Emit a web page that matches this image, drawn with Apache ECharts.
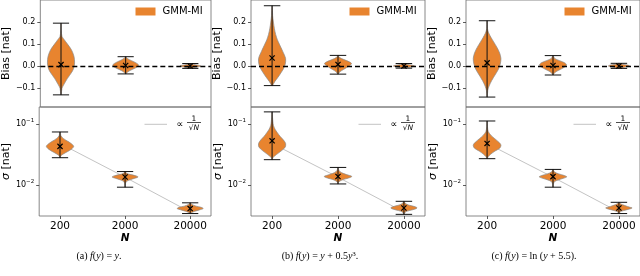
<!DOCTYPE html>
<html><head><meta charset="utf-8">
<script src="https://cdn.jsdelivr.net/npm/echarts@6/dist/echarts.min.js"></script>
<style>html,body{margin:0;padding:0;background:#fff}#c{width:640px;height:276px}</style>
</head><body><div id="c"></div>
<script>
// ---------- data ----------
const categories = ['200', '2000', '20000'];
const catPos = [1, 2, 3];
const biasTicks = [-0.1, 0, 0.1, 0.2];
const captions = [
  '(a) {i|f}({i|y}) = {i|y}.',
  '(b) {i|f}({i|y}) = {i|y} + 0.5{i|y}{sup|3}.',
  '(c) {i|f}({i|y}) = ln ({i|y} + 5.5).'
];

// violin profiles: [value, half-width in category units]
const biasShapeA = [
  [[0.195,0.003],[0.16,0.005],[0.135,0.015],[0.12,0.05],[0.1,0.1],[0.075,0.16],[0.045,0.2],[0.015,0.21],[-0.01,0.195],[-0.03,0.16],[-0.055,0.1],[-0.08,0.05],[-0.1,0.015],[-0.13,0.003]],
  [[0.043,0.003],[0.035,0.025],[0.025,0.09],[0.015,0.16],[0.005,0.2],[-0.005,0.17],[-0.015,0.1],[-0.025,0.035],[-0.035,0.003]],
  [[0.012,0.003],[0.008,0.05],[0.004,0.13],[0.001,0.16],[-0.003,0.12],[-0.007,0.05],[-0.01,0.003]]
];
const biasMinA = [-0.13, -0.035, -0.010];
const biasMaxA = [0.195, 0.043, 0.012];
const biasMeanA = [0.007, 0.003, 0.001];

const biasShapeB = [
  [[0.274,0.003],[0.23,0.008],[0.2,0.02],[0.17,0.035],[0.143,0.055],[0.12,0.08],[0.1,0.11],[0.068,0.16],[0.035,0.205],[0.01,0.2],[-0.01,0.175],[-0.03,0.135],[-0.05,0.09],[-0.07,0.04],[-0.088,0.005]],
  [[0.049,0.003],[0.04,0.02],[0.03,0.09],[0.02,0.17],[0.012,0.205],[0.002,0.175],[-0.01,0.11],[-0.02,0.055],[-0.03,0.015],[-0.036,0.003]],
  [[0.012,0.003],[0.008,0.05],[0.004,0.13],[0.001,0.16],[-0.003,0.12],[-0.006,0.05],[-0.009,0.003]]
];
const biasMinB = [-0.088, -0.036, -0.009];
const biasMaxB = [0.274, 0.049, 0.012];
const biasMeanB = [0.037, 0.008, 0.001];

const biasShapeC = [
  [[0.206,0.003],[0.17,0.006],[0.15,0.025],[0.13,0.06],[0.11,0.1],[0.085,0.15],[0.06,0.19],[0.035,0.21],[0.01,0.2],[-0.015,0.17],[-0.04,0.12],[-0.065,0.07],[-0.09,0.03],[-0.11,0.01],[-0.14,0.003]],
  [[0.048,0.003],[0.035,0.025],[0.025,0.1],[0.015,0.18],[0.006,0.205],[-0.004,0.175],[-0.015,0.11],[-0.025,0.045],[-0.035,0.01],[-0.04,0.003]],
  [[0.013,0.003],[0.009,0.05],[0.005,0.13],[0.001,0.16],[-0.003,0.12],[-0.007,0.05],[-0.01,0.003]]
];
const biasMinC = [-0.14, -0.04, -0.01];
const biasMaxC = [0.206, 0.048, 0.013];
const biasMeanC = [0.015, 0.003, 0.001];

const sigShapeA = [
  [[0.074,0.003],[0.065,0.012],[0.058,0.05],[0.052,0.12],[0.047,0.18],[0.043,0.21],[0.039,0.18],[0.035,0.11],[0.032,0.045],[0.03,0.012],[0.028,0.003]],
  [[0.0166,0.003],[0.0155,0.025],[0.0148,0.09],[0.0141,0.17],[0.0135,0.2],[0.0129,0.15],[0.0122,0.08],[0.0115,0.025],[0.0105,0.006],[0.0092,0.003]],
  [[0.0051,0.003],[0.0048,0.025],[0.0045,0.09],[0.0043,0.17],[0.0041,0.2],[0.0039,0.14],[0.0037,0.07],[0.0035,0.015],[0.0034,0.003]]
];
const sigMinA = [0.028, 0.0092, 0.0034];
const sigMaxA = [0.074, 0.0166, 0.0051];
const sigMeanA = [0.043, 0.0135, 0.0041];

const sigShapeB = [
  [[0.158,0.003],[0.13,0.006],[0.11,0.012],[0.095,0.02],[0.082,0.045],[0.072,0.08],[0.063,0.12],[0.055,0.17],[0.048,0.205],[0.042,0.2],[0.037,0.15],[0.033,0.09],[0.03,0.04],[0.028,0.012],[0.026,0.003]],
  [[0.0194,0.003],[0.0175,0.012],[0.016,0.05],[0.0148,0.13],[0.0138,0.21],[0.013,0.16],[0.0123,0.08],[0.0116,0.03],[0.011,0.008],[0.0104,0.003]],
  [[0.0054,0.003],[0.005,0.02],[0.0047,0.07],[0.0044,0.17],[0.0042,0.2],[0.004,0.16],[0.0038,0.08],[0.0036,0.02],[0.0033,0.003]]
];
const sigMinB = [0.026, 0.0104, 0.0033];
const sigMaxB = [0.158, 0.0194, 0.0054];
const sigMeanB = [0.053, 0.0138, 0.0042];

const sigShapeC = [
  [[0.112,0.003],[0.09,0.006],[0.075,0.018],[0.065,0.06],[0.057,0.12],[0.05,0.18],[0.045,0.21],[0.04,0.19],[0.036,0.12],[0.032,0.055],[0.029,0.015],[0.027,0.003]],
  [[0.018,0.003],[0.0165,0.018],[0.0153,0.08],[0.0143,0.17],[0.0136,0.21],[0.0129,0.16],[0.0121,0.08],[0.0113,0.02],[0.0102,0.006],[0.0092,0.003]],
  [[0.0052,0.003],[0.0049,0.025],[0.0046,0.09],[0.0043,0.17],[0.0042,0.2],[0.004,0.15],[0.0038,0.07],[0.0036,0.015],[0.0034,0.003]]
];
const sigMinC = [0.027, 0.0092, 0.0034];
const sigMaxC = [0.112, 0.018, 0.0052];
const sigMeanC = [0.048, 0.0137, 0.0042];

const refLine = [0.048, 0.0134, 0.0036];

// ---------- styling / layout ----------
const ORANGE = '#e8842f';
const FONT = 'DejaVu Sans';
const SERIF = 'Liberation Serif';
const lefts = [37, 251, 466];
const W = 174;
const X_MIN = 0.68, X_MAX = 3.32;
const CAP = 0.125;

const panels = [
  {bias: [biasShapeA, biasMinA, biasMaxA, biasMeanA], sig: [sigShapeA, sigMinA, sigMaxA, sigMeanA]},
  {bias: [biasShapeB, biasMinB, biasMaxB, biasMeanB], sig: [sigShapeB, sigMinB, sigMaxB, sigMeanB]},
  {bias: [biasShapeC, biasMinC, biasMaxC, biasMeanC], sig: [sigShapeC, sigMinC, sigMaxC, sigMeanC]}
];
const captionX = [99, 320, 534];

function violinRender(shapes) {
  return function (params, api) {
    const i = params.dataIndex;
    const x = api.value(0), mean = api.value(1), lo = api.value(2), hi = api.value(3);
    const prof = shapes[i];
    const left = prof.map(p => api.coord([x - p[1], p[0]]));
    const right = prof.slice().reverse().map(p => api.coord([x + p[1], p[0]]));
    const top = api.coord([x, hi]), bot = api.coord([x, lo]);
    const cl = api.coord([x - CAP, hi]), cr = api.coord([x + CAP, hi]);
    const bl = api.coord([x - CAP, lo]), br = api.coord([x + CAP, lo]);
    const m = api.coord([x, mean]);
    const s = 2.6;
    const ls = {stroke: '#111', lineWidth: 1};
    return {
      type: 'group',
      children: [
        {type: 'polygon', shape: {points: left.concat(right), smooth: 0.3}, style: {fill: ORANGE, stroke: '#8a8a8a', lineWidth: 0.7}},
        {type: 'line', shape: {x1: top[0], y1: top[1], x2: bot[0], y2: bot[1]}, style: ls},
        {type: 'line', shape: {x1: cl[0], y1: cl[1], x2: cr[0], y2: cr[1]}, style: ls},
        {type: 'line', shape: {x1: bl[0], y1: bl[1], x2: br[0], y2: br[1]}, style: ls},
        {type: 'line', shape: {x1: m[0] - s, y1: m[1] - s, x2: m[0] + s, y2: m[1] + s}, style: {stroke: '#000', lineWidth: 1.2}},
        {type: 'line', shape: {x1: m[0] - s, y1: m[1] + s, x2: m[0] + s, y2: m[1] - s}, style: {stroke: '#000', lineWidth: 1.2}}
      ]
    };
  };
}

function isPow10(v) {
  const l = Math.log10(v);
  return Math.abs(l - Math.round(l)) < 1e-6;
}

const grid = [], xAxis = [], yAxis = [], series = [], legend = [], graphic = [];
const tickStyle = {show: true, length: 3, lineStyle: {color: '#333', width: 0.8}};

panels.forEach((p, k) => {
  grid.push({left: lefts[k], top: -2, width: W, height: 109, show: true, borderColor: '#6a6a6a', borderWidth: 0.8});
  grid.push({left: lefts[k], top: 107, width: W, height: 109, show: true, borderColor: '#6a6a6a', borderWidth: 0.8});
  const gTop = 2 * k, gBot = 2 * k + 1;

  xAxis.push({type: 'value', gridIndex: gTop, min: X_MIN, max: X_MAX, axisLine: {show: false}, axisTick: {show: false}, axisLabel: {show: false}, splitLine: {show: false}});
  xAxis.push({type: 'value', gridIndex: gBot, min: X_MIN, max: X_MAX, axisLine: {show: false},
    axisTick: Object.assign({customValues: catPos}, tickStyle),
    axisLabel: {customValues: catPos, formatter: v => categories[catPos.indexOf(v)], fontFamily: FONT, fontSize: 10.5, color: '#000', margin: 5},
    splitLine: {show: false},
    name: 'N', nameLocation: 'middle', nameGap: 15,
    nameTextStyle: {fontFamily: FONT, fontSize: 10.5, fontStyle: 'italic', fontWeight: 'bold', color: '#000'}});

  yAxis.push({type: 'value', gridIndex: gTop, min: -0.185, max: 0.3, axisLine: {show: false},
    axisTick: Object.assign({customValues: biasTicks}, tickStyle),
    axisLabel: {customValues: biasTicks, formatter: v => (v < 0 ? '\u2212' : '') + Math.abs(v).toFixed(1), fontFamily: FONT, fontSize: 8, color: '#000', margin: 5},
    splitLine: {show: false},
    name: 'Bias [nat]', nameLocation: 'middle', nameGap: 19,
    nameTextStyle: {fontFamily: FONT, fontSize: 11, color: '#000'}});
  yAxis.push({type: 'log', gridIndex: gBot, min: 0.0031, max: 0.19, logBase: 10, axisLine: {show: false},
    axisTick: tickStyle,
    axisLabel: {showMinLabel: false, showMaxLabel: false,
      formatter: v => isPow10(v) ? '{b|10}{s|\u2212' + Math.round(-Math.log10(v)) + '}' : '',
      rich: {b: {fontFamily: FONT, fontSize: 8, color: '#000', lineHeight: 12}, s: {fontFamily: FONT, fontSize: 5.5, color: '#000', verticalAlign: 'top', lineHeight: 12}},
      margin: 5},
    splitLine: {show: false},
    name: '{i|\u03c3} [nat]', nameLocation: 'middle', nameGap: 19,
    nameTextStyle: {fontFamily: FONT, fontSize: 11, color: '#000', rich: {i: {fontFamily: FONT, fontSize: 11, fontStyle: 'italic', color: '#000'}}}});

  const b = p.bias, s = p.sig;
  series.push({
    type: 'custom', name: 'GMM-MI', xAxisIndex: gTop, yAxisIndex: gTop, z: 3,
    itemStyle: {color: ORANGE},
    renderItem: violinRender(b[0]),
    data: catPos.map((x, i) => [x, b[3][i], b[1][i], b[2][i]]),
    encode: {x: 0, y: [1, 2, 3]},
    markLine: {symbol: 'none', silent: true, label: {show: false}, z: 10,
      lineStyle: {color: '#000', type: [5, 3], width: 1.3}, data: [{yAxis: 0}]}
  });
  series.push({
    type: 'line', name: 'ref', xAxisIndex: gBot, yAxisIndex: gBot, z: 1, symbol: 'none', silent: true,
    lineStyle: {color: '#c4c4c4', width: 1}, data: catPos.map((x, i) => [x, refLine[i]])
  });
  series.push({
    type: 'custom', name: 'GMM-MI', xAxisIndex: gBot, yAxisIndex: gBot, z: 3,
    itemStyle: {color: ORANGE},
    renderItem: violinRender(s[0]),
    data: catPos.map((x, i) => [x, s[3][i], s[1][i], s[2][i]]),
    encode: {x: 0, y: [1, 2, 3]}
  });

  const R = lefts[k] + W;
  legend.push({left: R - 75.5, top: 6.5, padding: 0, itemWidth: 20, itemHeight: 8, selectedMode: false,
    data: [{name: 'GMM-MI', icon: 'rect'}], itemStyle: {borderWidth: 0},
    textStyle: {fontFamily: FONT, fontSize: 10, color: '#000', padding: [0, 0, 0, 2]}});

  graphic.push({type: 'group', children: [
    {type: 'line', shape: {x1: R - 66.5, y1: 124.3, x2: R - 44, y2: 124.3}, style: {stroke: '#c4c4c4', lineWidth: 1}},
    {type: 'text', x: R - 31, y: 125, style: {text: '\u221d', fontFamily: FONT, fontSize: 9.5, fill: '#000', align: 'center', verticalAlign: 'middle'}},
    {type: 'text', x: R - 17, y: 119, style: {text: '1', fontFamily: FONT, fontSize: 7.5, fill: '#000', align: 'center', verticalAlign: 'middle'}},
    {type: 'rect', shape: {x: R - 24, y: 122.2, width: 14, height: 0.7}, style: {fill: '#000'}},
    {type: 'text', x: R - 17, y: 127.7, style: {text: '\u221a{i|N}', rich: {i: {fontFamily: FONT, fontSize: 7.5, fontStyle: 'italic', fill: '#000'}}, fontFamily: FONT, fontSize: 7.5, fill: '#000', align: 'center', verticalAlign: 'middle'}}
  ]});

  graphic.push({type: 'text', x: captionX[k], y: 256, style: {text: captions[k],
    rich: {i: {fontFamily: SERIF, fontSize: 10, fontStyle: 'italic', fill: '#000'}, sup: {fontFamily: SERIF, fontSize: 7, fill: '#000', verticalAlign: 'top'}},
    fontFamily: SERIF, fontSize: 10, fill: '#000', align: 'center', verticalAlign: 'middle'}});
});

const chart = echarts.init(document.getElementById('c'), null, {renderer: 'canvas'});
chart.setOption({animation: false, backgroundColor: '#fff', grid, xAxis, yAxis, series, legend, graphic});
</script></body></html>
